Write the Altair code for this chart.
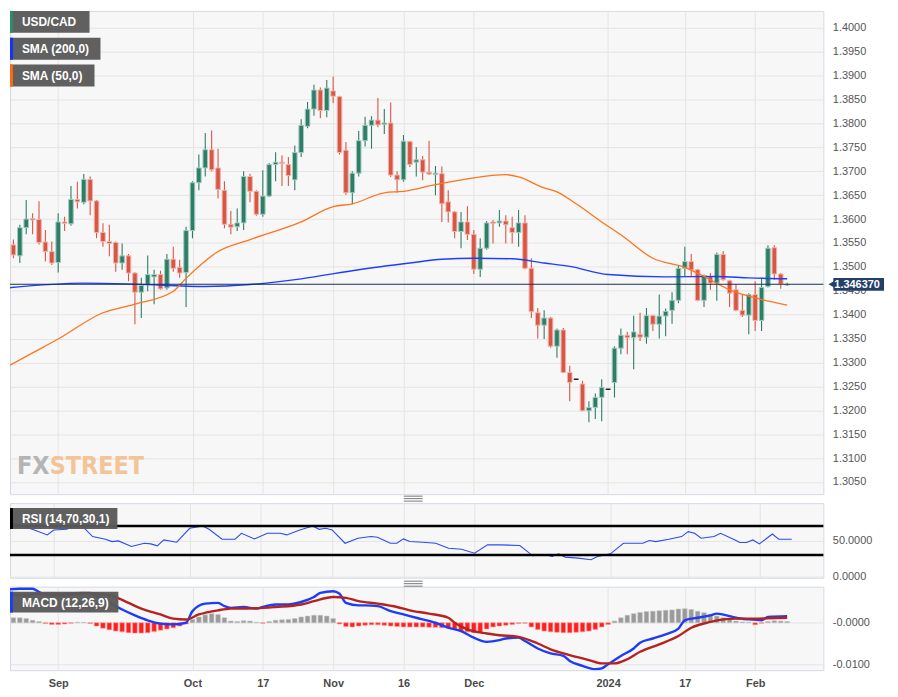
import altair as alt
import pandas as pd
import numpy as np

# ---------------- data ----------------
first_index = -8          # trading-day index, 0 = 1 Sep 2023
opens = [
    1.3546, 1.3546, 1.3523, 1.3582, 1.3601, 1.3599, 1.3552, 1.3532,
    1.3509, 1.3594, 1.3590, 1.3641, 1.3635, 1.3683, 1.3638, 1.3572, 1.3553, 1.3551,
    1.3508, 1.3523, 1.3487, 1.3447, 1.3463, 1.3479, 1.3484, 1.3456, 1.3516, 1.3499,
    1.3488, 1.3576, 1.3676, 1.3707, 1.3745, 1.3707, 1.3660, 1.3589, 1.3584, 1.3592,
    1.3689, 1.3658, 1.3610, 1.3648, 1.3714, 1.3719, 1.3714, 1.3682, 1.3739, 1.3794,
    1.3830, 1.3870, 1.3827, 1.3868, 1.3856, 1.3744, 1.3655, 1.3696, 1.3764, 1.3796,
    1.3807, 1.3798, 1.3801, 1.3692, 1.3682, 1.3762, 1.3719, 1.3724, 1.3698, 1.3693,
    1.3695, 1.3636, 1.3615, 1.3574, 1.3594, 1.3568, 1.3495, 1.3539, 1.3594, 1.3592,
    1.3596, 1.3582, 1.3572, 1.3592, 1.3497, 1.3404, 1.3378, 1.3393, 1.3334, 1.3368,
    1.3279, 1.3265, 1.3255, 1.3199, 1.3206, 1.3227, 1.3244, 1.3258, 1.3330, 1.3357,
    1.3352, 1.3359, 1.3353, 1.3398, 1.3380, 1.3397, 1.3409, 1.3430, 1.3497, 1.3511,
    1.3494, 1.3430, 1.3480, 1.3466, 1.3526, 1.3471, 1.3452, 1.3409, 1.3399, 1.3442,
    1.3388, 1.3459, 1.3540, 1.3485, 1.3462,
]
highs = [
    1.3565, 1.3557, 1.3588, 1.3640, 1.3612, 1.3637, 1.3577, 1.3553,
    1.3612, 1.3605, 1.3669, 1.3678, 1.3694, 1.3689, 1.3640, 1.3591, 1.3588, 1.3553,
    1.3549, 1.3527, 1.3489, 1.3477, 1.3524, 1.3494, 1.3492, 1.3527, 1.3542, 1.3515,
    1.3584, 1.3679, 1.3735, 1.3780, 1.3785, 1.3747, 1.3679, 1.3617, 1.3622, 1.3700,
    1.3695, 1.3660, 1.3702, 1.3717, 1.3740, 1.3733, 1.3730, 1.3754, 1.3809, 1.3845,
    1.3881, 1.3875, 1.3891, 1.3898, 1.3858, 1.3761, 1.3700, 1.3784, 1.3814, 1.3815,
    1.3853, 1.3830, 1.3844, 1.3700, 1.3776, 1.3764, 1.3750, 1.3732, 1.3764, 1.3711,
    1.3710, 1.3660, 1.3617, 1.3615, 1.3627, 1.3577, 1.3560, 1.3596, 1.3598, 1.3619,
    1.3608, 1.3605, 1.3619, 1.3608, 1.3518, 1.3414, 1.3409, 1.3395, 1.3371, 1.3372,
    1.3293, 1.3265, 1.3262, 1.3219, 1.3235, 1.3265, 1.3244, 1.3334, 1.3371, 1.3364,
    1.3398, 1.3404, 1.3414, 1.3400, 1.3442, 1.3413, 1.3447, 1.3504, 1.3542, 1.3527,
    1.3496, 1.3484, 1.3487, 1.3530, 1.3533, 1.3473, 1.3464, 1.3442, 1.3445, 1.3470,
    1.3477, 1.3545, 1.3545, 1.3487, 1.3467,
]
lows = [
    1.3513, 1.3518, 1.3508, 1.3568, 1.3568, 1.3547, 1.3511, 1.3504,
    1.3488, 1.3575, 1.3586, 1.3622, 1.3631, 1.3608, 1.3560, 1.3542, 1.3522, 1.3490,
    1.3494, 1.3470, 1.3380, 1.3393, 1.3449, 1.3422, 1.3452, 1.3452, 1.3490, 1.3477,
    1.3416, 1.3560, 1.3660, 1.3689, 1.3700, 1.3643, 1.3581, 1.3568, 1.3575, 1.3577,
    1.3635, 1.3607, 1.3605, 1.3646, 1.3679, 1.3669, 1.3669, 1.3660, 1.3730, 1.3790,
    1.3816, 1.3811, 1.3813, 1.3842, 1.3735, 1.3651, 1.3631, 1.3689, 1.3752, 1.3747,
    1.3792, 1.3778, 1.3688, 1.3655, 1.3678, 1.3709, 1.3689, 1.3681, 1.3692, 1.3650,
    1.3594, 1.3593, 1.3560, 1.3539, 1.3556, 1.3485, 1.3479, 1.3536, 1.3549, 1.3584,
    1.3549, 1.3549, 1.3542, 1.3495, 1.3393, 1.3350, 1.3349, 1.3331, 1.3310, 1.3278,
    1.3219, 1.3265, 1.3198, 1.3175, 1.3182, 1.3177, 1.3244, 1.3227, 1.3317, 1.3317,
    1.3286, 1.3345, 1.3339, 1.3366, 1.3350, 1.3355, 1.3381, 1.3424, 1.3480, 1.3480,
    1.3428, 1.3416, 1.3452, 1.3429, 1.3471, 1.3416, 1.3407, 1.3395, 1.3359, 1.3366,
    1.3366, 1.3457, 1.3473, 1.3454, 1.3460,
]
closes = [
    1.3551, 1.3525, 1.3582, 1.3600, 1.3598, 1.3551, 1.3532, 1.3508,
    1.3594, 1.3591, 1.3641, 1.3636, 1.3683, 1.3638, 1.3572, 1.3553, 1.3549, 1.3508,
    1.3523, 1.3487, 1.3447, 1.3461, 1.3484, 1.3484, 1.3454, 1.3516, 1.3497, 1.3487,
    1.3576, 1.3676, 1.3707, 1.3745, 1.3703, 1.3662, 1.3589, 1.3583, 1.3592, 1.3689,
    1.3658, 1.3610, 1.3648, 1.3714, 1.3719, 1.3716, 1.3691, 1.3739, 1.3796, 1.3830,
    1.3870, 1.3827, 1.3874, 1.3857, 1.3739, 1.3655, 1.3696, 1.3764, 1.3796, 1.3807,
    1.3797, 1.3801, 1.3692, 1.3682, 1.3763, 1.3714, 1.3724, 1.3698, 1.3694, 1.3696,
    1.3632, 1.3615, 1.3574, 1.3594, 1.3568, 1.3495, 1.3539, 1.3592, 1.3591, 1.3596,
    1.3588, 1.3572, 1.3592, 1.3497, 1.3406, 1.3378, 1.3393, 1.3334, 1.3368, 1.3279,
    1.3258, 1.3265, 1.3199, 1.3206, 1.3227, 1.3248, 1.3244, 1.3330, 1.3357, 1.3352,
    1.3364, 1.3353, 1.3398, 1.3380, 1.3397, 1.3407, 1.3430, 1.3497, 1.3511, 1.3494,
    1.3430, 1.3482, 1.3466, 1.3526, 1.3473, 1.3445, 1.3409, 1.3399, 1.3442, 1.3388,
    1.3457, 1.3539, 1.3485, 1.3464, 1.34637,
]
macd_hist = [
    0.0012, 0.0012, 0.0012, 0.0010, 0.0006, 0.0003, -0.0002, -0.0004,
    -0.0004, -0.0003, -0.0001, 0.0001, 0.0001, -0.0002, -0.0008, -0.0013, -0.0017, -0.0020,
    -0.0022, -0.0024, -0.0025, -0.0025, -0.0024, -0.0021, -0.0018, -0.0015, -0.0012, -0.0008,
    -0.0003, 0.0008, 0.0014, 0.0019, 0.0022, 0.0020, 0.0012, 0.0004, 0.0003, 0.0005,
    0.0004, 0.0001, -0.0001, 0.0003, 0.0006, 0.0007, 0.0008, 0.0010, 0.0014, 0.0016,
    0.0018, 0.0018, 0.0016, 0.0010, -0.0003, -0.0009, -0.0010, -0.0008, -0.0006, -0.0005,
    -0.0005, -0.0006, -0.0008, -0.0009, -0.0010, -0.0010, -0.0010, -0.0010, -0.0011, -0.0011,
    -0.0012, -0.0013, -0.0016, -0.0020, -0.0022, -0.0024, -0.0023, -0.0015, -0.0010, -0.0008,
    -0.0006, -0.0004, -0.0002, -0.0001, -0.0010, -0.0016, -0.0020, -0.0022, -0.0023, -0.0024,
    -0.0024, -0.0023, -0.0022, -0.0020, -0.0016, -0.0010, -0.0004, 0.0004, 0.0012, 0.0018,
    0.0022, 0.0025, 0.0027, 0.0028, 0.0029, 0.0030, 0.0031, 0.0033, 0.0034, 0.0032,
    0.0028, 0.0024, 0.0020, 0.0016, 0.0012, 0.0008, 0.0004, 0.0002, 0.0001, -0.0005,
    -0.0001, 0.0003, 0.0005, 0.0004, 0.0003,
]

sma50_idx = [-8, -4, 0, 7, 12, 18, 20, 25, 30, 38, 43, 46, 51, 54, 59, 64, 70, 72, 76,
             78, 81, 85, 88, 93, 98, 101, 105, 109, 114]
sma50_val = [1.3291, 1.3320, 1.3349, 1.3404, 1.3422, 1.3449, 1.3476, 1.3532, 1.3557,
             1.3594, 1.3626, 1.3632, 1.3655, 1.3658, 1.3672, 1.3684, 1.3693, 1.3688,
             1.3665, 1.3657, 1.3632, 1.3594, 1.3567, 1.3518, 1.3499, 1.3480, 1.3452,
             1.3435, 1.3420]
sma200_idx = [-8, 4, 12, 23, 30, 38, 47, 55, 60, 65, 71, 76, 80, 86, 95, 103, 108, 114]
sma200_val = [1.3456, 1.3466, 1.3464, 1.3459, 1.3463, 1.3475, 1.3494, 1.3508, 1.3516,
              1.3518, 1.3517, 1.3508, 1.3501, 1.3484, 1.3479, 1.3480, 1.3477, 1.3475]

rsi_idx = [-8, -6, -3, -1, 0, 2, 3, 4, 6, 8, 9, 10, 12, 14, 15, 16, 17, 19, 21, 23, 24,
           26, 28, 29, 31, 33, 35, 36, 38, 40, 41, 42, 43, 45, 47, 49, 50, 52, 53, 54,
           55, 57, 59, 61, 63, 65, 67, 69, 72, 74, 76, 77, 78, 79, 81, 83, 84, 86, 88,
           91, 92, 93, 95, 97, 98, 99, 100, 102, 103, 105, 106, 107, 108, 109, 110,
           111, 112, 113, 114]
rsi_val = [71.3, 73.5, 64.4, 57.6, 64.4, 65.3, 69.0, 73.5, 55.3, 51.6, 48.4, 49.3, 41.6,
           46.1, 45.2, 42.5, 50.7, 47.5, 66.7, 69.9, 65.3, 51.6, 51.6, 59.8, 52.1, 59.8,
           59.8, 57.6, 64.4, 69.9, 65.3, 66.7, 64.4, 46.1, 53.0, 55.3, 54.4, 46.1, 46.1,
           52.1, 48.4, 47.5, 46.1, 39.3, 37.9, 32.4, 43.9, 43.9, 43.0, 28.8, 30.2, 27.9,
           31.5, 27.0, 25.6, 23.3, 27.9, 31.5, 46.1, 46.1, 49.8, 48.4, 51.6, 55.3, 62.1,
           59.8, 53.0, 55.3, 59.8, 51.6, 47.1, 47.1, 50.7, 45.2, 52.0, 58.9, 51.6, 51.6,
           51.6]

macd_idx = [-8, -6, -4, -3, -1, 1, 3, 5, 6, 8, 10, 12, 14, 16, 18, 20, 21, 23, 25, 26,
            27, 29, 31, 32, 34, 36, 38, 40, 41, 43, 44, 45, 47, 48, 50, 52, 54, 56, 59,
            61, 63, 65, 67, 69, 70, 72, 73, 75, 77, 79, 80, 82, 84, 85, 86, 88, 90, 91,
            93, 95, 97, 98, 100, 102, 103, 105, 106, 108, 110, 111, 114]
macd_val = [0.0080, 0.0082, 0.0082, 0.0074, 0.0066, 0.0066, 0.0070, 0.0072, 0.0064,
            0.0048, 0.0032, 0.0018, 0.0006, -0.0002, -0.0004, 0.0000, 0.0028, 0.0046,
            0.0048, 0.0040, 0.0036, 0.0038, 0.0034, 0.0038, 0.0044, 0.0044, 0.0050,
            0.0062, 0.0072, 0.0076, 0.0070, 0.0048, 0.0042, 0.0042, 0.0040, 0.0028,
            0.0020, 0.0012, 0.0000, -0.0012, -0.0020, -0.0036, -0.0046, -0.0042,
            -0.0038, -0.0036, -0.0044, -0.0062, -0.0074, -0.0080, -0.0092, -0.0104,
            -0.0112, -0.0110, -0.0100, -0.0080, -0.0062, -0.0048, -0.0038, -0.0028,
            -0.0014, 0.0006, 0.0012, 0.0018, 0.0022, 0.0016, 0.0012, 0.0008, 0.0006,
            0.0014, 0.0016]
signal_idx = [-8, -5, -3, 1, 4, 6, 9, 11, 13, 16, 18, 20, 22, 25, 27, 31, 34, 38, 40,
              43, 45, 47, 50, 53, 55, 58, 61, 62, 64, 67, 69, 72, 75, 77, 80, 83, 85,
              87, 89, 91, 94, 97, 99, 102, 104, 106, 109, 111, 114]
signal_val = [0.0068, 0.0066, 0.0070, 0.0070, 0.0072, 0.0070, 0.0062, 0.0048, 0.0034,
              0.0020, 0.0010, 0.0008, 0.0020, 0.0030, 0.0034, 0.0035, 0.0038, 0.0044,
              0.0052, 0.0062, 0.0060, 0.0052, 0.0046, 0.0038, 0.0030, 0.0022, 0.0012,
              0.0000, -0.0016, -0.0026, -0.0030, -0.0034, -0.0050, -0.0064, -0.0078,
              -0.0090, -0.0098, -0.0098, -0.0088, -0.0070, -0.0052, -0.0032, -0.0012,
              0.0002, 0.0008, 0.0010, 0.0010, 0.0011, 0.0012]

current_price = 1.34637
x_tick_idx = [0, 21, 32, 43, 54, 65, 86, 98, 109]
x_tick_lbl = ["Sep", "Oct", "17", "Nov", "16", "Dec", "2024", "17", "Feb"]
price_ticks = [1.3050, 1.3100, 1.3150, 1.3200, 1.3250, 1.3300, 1.3350, 1.3400, 1.3450,
               1.3500, 1.3550, 1.3600, 1.3650, 1.3700, 1.3750, 1.3800, 1.3850, 1.3900,
               1.3950, 1.4000]
rsi_ticks = [0, 50]
rsi_levels = [70, 30]
macd_ticks = [0.0, -0.01]
macd_tick_lbl = ["-0.0000", "-0.0100"]

# ---------------- frames ----------------
idx = list(range(first_index, first_index + len(opens)))
candles = pd.DataFrame({"i": idx, "open": opens, "high": highs, "low": lows, "close": closes})
o = np.array(opens); c = np.array(closes)
candles["dir"] = np.where(c > o, "up", np.where(c < o, "down", "flat"))
hist = pd.DataFrame({"i": idx, "h": macd_hist})
sma50 = pd.DataFrame({"i": sma50_idx, "v": sma50_val})
sma200 = pd.DataFrame({"i": sma200_idx, "v": sma200_val})
rsi = pd.DataFrame({"i": rsi_idx, "v": rsi_val})
macd = pd.DataFrame({"i": macd_idx, "v": macd_val})
signal = pd.DataFrame({"i": signal_idx, "v": signal_val})

FONT = "Liberation Sans"
WM_FONT = "'DejaVu Sans Condensed', Roboto, 'DejaVu Sans', sans-serif"
W = 818
GRID = "#e4e4e4"

xscale = alt.Scale(domain=[-6.76, 118.89], nice=False, zero=False)
lbl_expr = "".join(f"datum.value == {v} ? '{l}' : " for v, l in zip(x_tick_idx, x_tick_lbl)) + "''"


def xenc(labels=False):
    return alt.X("i:Q", scale=xscale,
                 axis=alt.Axis(values=x_tick_idx, grid=True, gridColor=GRID, ticks=False,
                               domain=False, labels=labels, title=None, labelExpr=lbl_expr,
                               labelFontWeight="bold", labelColor="#4a4a4a", labelFontSize=11,
                               labelPadding=7, labelFont=FONT))


def yaxis(values, fmt=".4f", expr=None):
    kw = dict(orient="right", values=values, format=fmt, grid=True, gridColor=GRID,
              ticks=False, domain=False, labelPadding=9, labelColor="#555555",
              labelFontSize=11, labelFont=FONT, title=None)
    if expr:
        kw["labelExpr"] = expr
    return alt.Axis(**kw)


def one(text):
    return alt.Chart(pd.DataFrame({"t": [text]}))


def label_box(x0, x1, y0, y1, bar_color, text):
    b = one(text)
    box = b.mark_rect(color="#5a5a5a", opacity=0.96).encode(
        x=alt.value(x0), x2=alt.value(x1), y=alt.value(y0), y2=alt.value(y1))
    bar = b.mark_rect(color=bar_color).encode(
        x=alt.value(x0), x2=alt.value(x0 + 3), y=alt.value(y0), y2=alt.value(y1))
    txt = b.mark_text(align="left", baseline="middle", color="white", fontWeight="bold",
                      fontSize=12, font=FONT).encode(
        x=alt.value(x0 + 12), y=alt.value((y0 + y1) / 2 + 0.5), text="t:N")
    return [box, bar, txt]


def separator(y_top):
    b = one("sep")
    return [b.mark_rule(color="#777777", strokeWidth=1).encode(
        x=alt.value(396), x2=alt.value(415), y=alt.value(y_top + k * 2.5)) for k in range(3)]


# ---------------- main price panel ----------------
yscale_main = alt.Scale(domain=[1.302454, 1.403536], nice=False, zero=False)
ax_main = yaxis(price_ticks)

dir_color = alt.Scale(domain=["up", "down", "flat"], range=["#2e7d67", "#d65745", "#111111"])
dir_stroke = alt.Scale(domain=["up", "down", "flat"], range=["#a2cabe", "#f0b3ab", "#111111"])

wicks = alt.Chart(candles).mark_rule(strokeWidth=1.1, clip=True).encode(
    x=xenc(), y=alt.Y("low:Q", scale=yscale_main, axis=ax_main), y2="high:Q",
    color=alt.Color("dir:N", scale=dir_color, legend=None))
bodies = alt.Chart(candles).mark_bar(size=4.6, strokeWidth=1, clip=True).encode(
    x=xenc(), y=alt.Y("open:Q", scale=yscale_main, axis=ax_main), y2="close:Q",
    fill=alt.Fill("dir:N", scale=dir_color, legend=None),
    stroke=alt.Stroke("dir:N", scale=dir_stroke, legend=None))
l200 = alt.Chart(sma200).mark_line(color="#1f3dff", strokeWidth=1.4, interpolate="monotone",
                                   clip=True).encode(
    x=xenc(), y=alt.Y("v:Q", scale=yscale_main, axis=ax_main))
l50 = alt.Chart(sma50).mark_line(color="#ff7419", strokeWidth=1.3, interpolate="monotone",
                                 clip=True).encode(
    x=xenc(), y=alt.Y("v:Q", scale=yscale_main, axis=ax_main))
pdf = pd.DataFrame({"p": [current_price], "t": [f"{current_price:.6f}"]})
price_rule = alt.Chart(pdf).mark_rule(color="#1d3150", strokeWidth=1.1).encode(
    y=alt.Y("p:Q", scale=yscale_main, axis=ax_main))
price_box = alt.Chart(pdf).mark_rect(color="#22406a").encode(
    x=alt.value(828), x2=alt.value(879), y=alt.value(268.5), y2=alt.value(281.5))
price_arrow = alt.Chart(pdf).mark_point(shape="triangle-left", filled=True, size=45,
                                        color="#22406a", opacity=1).encode(
    x=alt.value(826), y=alt.Y("p:Q", scale=yscale_main, axis=ax_main))
price_txt = alt.Chart(pdf).mark_text(align="left", baseline="middle", color="white",
                                     fontWeight="bold", fontSize=11, font=FONT).encode(
    x=alt.value(829), y=alt.value(275.5), text="t:N")
wm_fx = one("FX").mark_text(align="left", baseline="alphabetic", font=WM_FONT,
                            fontSize=25, fontWeight="bold", color="#b4b4b4").encode(
    x=alt.value(7), y=alt.value(466), text="t:N")
wm_st = one("STREET").mark_text(align="left", baseline="alphabetic", font=WM_FONT,
                                fontSize=25, fontWeight="bold", color="#f3c596").encode(
    x=alt.value(40), y=alt.value(466), text="t:N")

main_layers = [wicks, bodies, l200, l50, price_rule, wm_fx, wm_st,
               price_box, price_arrow, price_txt]
main_layers += label_box(0, 80, 0, 22, "#2e8b6e", "USD/CAD")
main_layers += label_box(0, 91, 27, 49, "#1033ff", "SMA (200,0)")
main_layers += label_box(0, 85, 54, 76, "#ff6a10", "SMA (50,0)")
main = alt.layer(*main_layers).properties(width=W, height=486)

# ---------------- RSI panel ----------------
yscale_rsi = alt.Scale(domain=[-1.37, 101.37], nice=False, zero=False)
ax_rsi = yaxis(rsi_ticks)
rsi_line = alt.Chart(rsi).mark_line(color="#2a4cf0", strokeWidth=1.1, clip=True).encode(
    x=xenc(), y=alt.Y("v:Q", scale=yscale_rsi, axis=ax_rsi))
lev = pd.DataFrame({"lv": rsi_levels})
rsi_rules = alt.Chart(lev).mark_rule(color="#000000", strokeWidth=2.5).encode(
    y=alt.Y("lv:Q", scale=yscale_rsi, axis=ax_rsi))
rsi_layers = [rsi_line, rsi_rules]
rsi_layers += label_box(0, 108, 5, 26, "#000000", "RSI (14,70,30,1)")
rsi_layers += separator(-7)
rsi_panel = alt.layer(*rsi_layers).properties(width=W, height=75)

# ---------------- MACD panel ----------------
yscale_macd = alt.Scale(domain=[-0.011439, 0.008705], nice=False, zero=False)
macd_expr = "".join(f"datum.value == {v} ? '{l}' : " for v, l in zip(macd_ticks, macd_tick_lbl)) + "''"
ax_macd = yaxis(macd_ticks, expr=macd_expr)
hbars_pos = alt.Chart(hist).transform_filter("datum.h >= 0").mark_bar(
    size=4.6, clip=True, color="#9a9a9a", stroke="#c4c4c4", strokeWidth=0.6).encode(
    x=xenc(True), y=alt.Y("h:Q", scale=yscale_macd, axis=ax_macd), y2=alt.datum(0))
hbars_neg = alt.Chart(hist).transform_filter("datum.h < 0").mark_bar(
    size=4.6, clip=True, color="#ff1f1f", stroke="#ff9a9a", strokeWidth=0.6).encode(
    x=xenc(True), y=alt.Y("h:Q", scale=yscale_macd, axis=ax_macd), y2=alt.datum(0))
macd_line = alt.Chart(macd).mark_line(color="#1d3cf5", strokeWidth=2.4, interpolate="monotone",
                                      clip=True).encode(
    x=xenc(True), y=alt.Y("v:Q", scale=yscale_macd, axis=ax_macd))
sig_line = alt.Chart(signal).mark_line(color="#b5231f", strokeWidth=2.4, interpolate="monotone",
                                       clip=True).encode(
    x=xenc(True), y=alt.Y("v:Q", scale=yscale_macd, axis=ax_macd))
macd_layers = [hbars_pos, hbars_neg, macd_line, sig_line]
macd_layers += label_box(0, 109, 5, 26, "#1d3cf5", "MACD (12,26,9)")
macd_layers += separator(-5.5)
macd_panel = alt.layer(*macd_layers).properties(width=W, height=84)

chart = alt.vconcat(main, rsi_panel, macd_panel, spacing=9, bounds="flush").properties(
    padding={"left": 0, "top": 0, "right": 5, "bottom": 0}
).configure_view(fill="#f7f7f7", stroke="#d3d9e4", strokeWidth=1)

chart.save("out.html", embed_options={"renderer": "svg", "actions": False})
